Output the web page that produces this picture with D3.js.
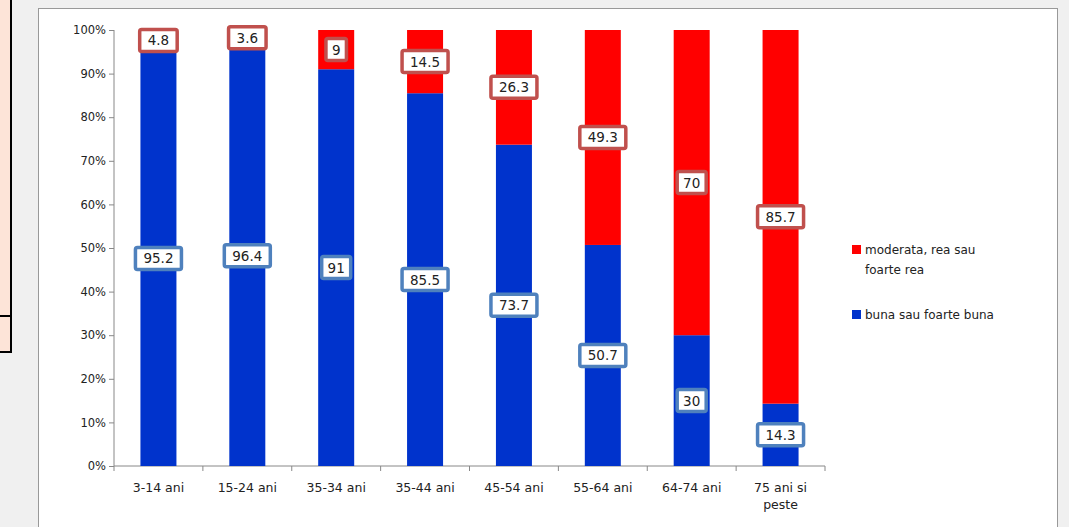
<!DOCTYPE html><html><head><meta charset="utf-8">
<script src="https://cdn.jsdelivr.net/npm/d3@7"></script>
<style>body{margin:0;background:#f0f0f0;}svg{display:block}</style></head><body>
<svg id="c" width="1069" height="527"></svg>
<script>
const categories=["3-14 ani","15-24 ani","35-34 ani","35-44 ani","45-54 ani","55-64 ani","64-74 ani","75 ani si|peste"];
const buna=[95.2,96.4,91,85.5,73.7,50.7,30,14.3];
const rea=[4.8,3.6,9,14.5,26.3,49.3,70,85.7];
const yTicks=[0,10,20,30,40,50,60,70,80,90,100];
const svg=d3.select("#c");
const F="DejaVu Sans, Verdana, sans-serif";
svg.append("rect").attr("x",0).attr("y",0).attr("width",11).attr("height",352).attr("fill","#fde4d8");
svg.append("line").attr("x1",11).attr("x2",11).attr("y1",0).attr("y2",353).attr("stroke","#000").attr("stroke-width",2);
svg.append("line").attr("x1",0).attr("x2",12).attr("y1",316).attr("y2",316).attr("stroke","#000").attr("stroke-width",2);
svg.append("line").attr("x1",0).attr("x2",12).attr("y1",352).attr("y2",352).attr("stroke","#000").attr("stroke-width",2);
svg.append("rect").attr("x",38.5).attr("y",8.5).attr("width",1019).attr("height",530).attr("fill","#fff").attr("stroke","#999");
const x=d3.scaleBand().domain(categories).range([114,825]);
const y=d3.scaleLinear().domain([0,100]).range([466,30]);
const g=svg.append("g");
const ax=g.append("g").attr("transform","translate(114,0)").call(d3.axisLeft(y).tickValues(yTicks).tickSize(5).tickFormat(d=>d+"%"));
ax.selectAll("text").attr("font-family",F).attr("font-size",11.5).attr("fill","#222");
ax.selectAll("path,line").attr("stroke","#888");
ax.select("path").attr("d","M0,30V466");
const bx=g.append("g").attr("transform","translate(0,466)").call(d3.axisBottom(x).tickSize(5).tickFormat(""));
bx.selectAll("path,line").attr("stroke","#888");
bx.selectAll(".tick line").remove();
bx.select("path").attr("d","M114,0H825");
x.domain().concat([null]).forEach((c,i)=>{const xx=114+i*x.bandwidth();g.append("line").attr("x1",xx).attr("x2",xx).attr("y1",466).attr("y2",471).attr("stroke","#888");});
categories.forEach((c,i)=>{const lines=c.split("|");const t=g.append("text").attr("font-family",F).attr("font-size",12.5).attr("fill","#222").attr("text-anchor","middle").attr("x",x(c)+x.bandwidth()/2).attr("y",492);
lines.forEach((l,j)=>t.append("tspan").attr("x",x(c)+x.bandwidth()/2).attr("dy",j?17:0).text(l));});
const bw=36;
categories.forEach((c,i)=>{
 const cx=x(c)+x.bandwidth()/2;
 g.append("rect").attr("x",cx-bw/2).attr("width",bw).attr("y",y(buna[i])).attr("height",y(0)-y(buna[i])).attr("fill","#0033cc");
 g.append("rect").attr("x",cx-bw/2).attr("width",bw).attr("y",y(100)).attr("height",y(buna[i])-y(100)).attr("fill","#ff0000");
 [[buna[i],buna[i]/2,"#4f81bd"],[rea[i],buna[i]+rea[i]/2,"#c0504d"]].forEach(([v,m,col])=>{
  const s=String(v);const w=s.length*8.5+12;
  g.append("rect").attr("x",cx-w/2).attr("y",y(m)-11).attr("width",w).attr("height",22).attr("rx",2).attr("fill","#fff").attr("stroke",col).attr("stroke-width",3.5);
  g.append("text").attr("x",cx).attr("y",y(m)+5).attr("text-anchor","middle").attr("font-family",F).attr("font-size",13.5).attr("fill","#222").text(s);
 });
});
const L=[["#ff0000",["moderata, rea sau","foarte rea"],253],["#0033cc",["buna sau foarte buna"],318]];
L.forEach(([col,t,yy])=>{g.append("rect").attr("x",852).attr("y",yy-8).attr("width",9).attr("height",9).attr("fill",col);
 t.forEach((s,j)=>g.append("text").attr("x",865).attr("y",yy+1+j*20).attr("font-family",F).attr("font-size",12).attr("fill","#222").text(s));});
</script></body></html>
